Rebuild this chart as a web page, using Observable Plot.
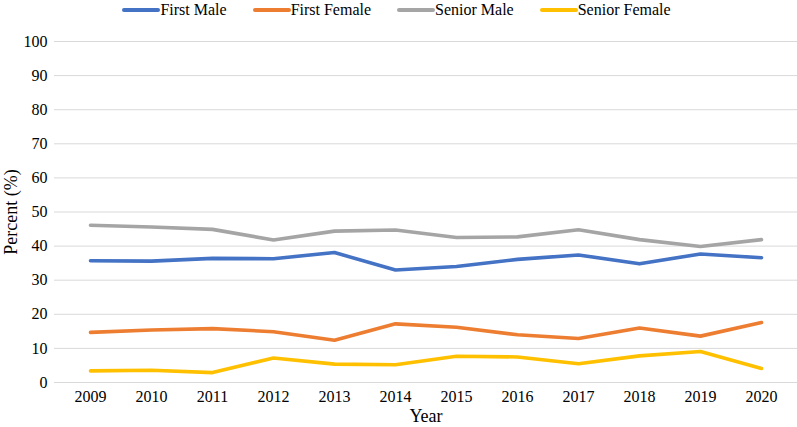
<!DOCTYPE html>
<html>
<head>
<meta charset="utf-8">
<script src="https://cdn.jsdelivr.net/npm/d3@7"></script>
<script src="https://cdn.jsdelivr.net/npm/@observablehq/plot@0.6"></script>
<style>
  body { margin: 0; background: #fff; font-family: "Liberation Serif", "Times New Roman", serif; }
  #legend { height: 20px; display: flex; justify-content: center; align-items: center; gap: 26px; font-size: 16px; color: #000; padding-right: 4px; }
  .item { display: flex; align-items: center; }
  .sw { width: 38px; height: 4px; border-radius: 2px; display: inline-block; }
  svg text { font-family: "Liberation Serif", "Times New Roman", serif !important; }
  g[aria-label="y-axis tick label"] text, g[aria-label="x-axis tick label"] text { font-size: 16px; }
  g[aria-label="y-axis label"] text, g[aria-label="x-axis label"] text { font-size: 18px; }
</style>
</head>
<body>
<div id="legend"></div>
<div id="chart"></div>
<script>
const years = ["2009","2010","2011","2012","2013","2014","2015","2016","2017","2018","2019","2020"];
const seriesNames = ["First Male", "First Female", "Senior Male", "Senior Female"];
const seriesColors = ["#4472C4", "#ED7D31", "#A5A5A5", "#FFC000"];
const firstMale    = [35.7, 35.6, 36.4, 36.3, 38.1, 33.0, 34.0, 36.1, 37.4, 34.8, 37.7, 36.6];
const firstFemale  = [14.7, 15.4, 15.8, 14.9, 12.4, 17.2, 16.2, 14.0, 12.9, 16.0, 13.6, 17.6];
const seniorMale   = [46.1, 45.6, 44.9, 41.8, 44.4, 44.7, 42.5, 42.7, 44.8, 41.9, 39.9, 41.9];
const seniorFemale = [3.4, 3.6, 2.9, 7.2, 5.4, 5.2, 7.7, 7.5, 5.5, 7.8, 9.1, 4.1];
const yTicks = [0,10,20,30,40,50,60,70,80,90,100];

const allSeries = [firstMale, firstFemale, seniorMale, seniorFemale];
const data = [];
allSeries.forEach((vals, i) => vals.forEach((v, j) => data.push({series: seriesNames[i], year: years[j], value: v})));

const legend = document.getElementById("legend");
seriesNames.forEach((n, i) => {
  const it = document.createElement("span");
  it.className = "item";
  it.innerHTML = `<span class="sw" style="background:${seriesColors[i]}"></span><span>${n}</span>`;
  legend.appendChild(it);
});

const chart = Plot.plot({
  width: 797,
  height: 407,
  marginLeft: 54,
  marginRight: 0,
  marginTop: 21,
  marginBottom: 45,
  style: { fontFamily: "Liberation Serif", fontSize: "16px", color: "#000", background: "#fff" },
  x: { type: "point", domain: years, padding: 0.5 },
  y: { domain: [0, 100] },
  color: { domain: seriesNames, range: seriesColors },
  marks: [
    Plot.gridY(yTicks, { stroke: "#d9d9d9", strokeOpacity: 1, strokeWidth: 1 }),
    Plot.axisY(yTicks, { tickSize: 0, tickPadding: 7, label: "Percent (%)", labelAnchor: "center", labelArrow: "none", labelOffset: 50, fontFamily: "Liberation Serif", fontSize: 16 }),
    Plot.axisX(years, { tickSize: 0, tickPadding: 8, label: "Year", labelAnchor: "center", labelArrow: "none", labelOffset: 39, fontFamily: "Liberation Serif", fontSize: 16 }),
    Plot.line(data, { x: "year", y: "value", z: "series", stroke: "series", strokeWidth: 3.6, strokeLinejoin: "round", strokeLinecap: "round" })
  ]
});
document.getElementById("chart").appendChild(chart);
</script>
</body>
</html>
